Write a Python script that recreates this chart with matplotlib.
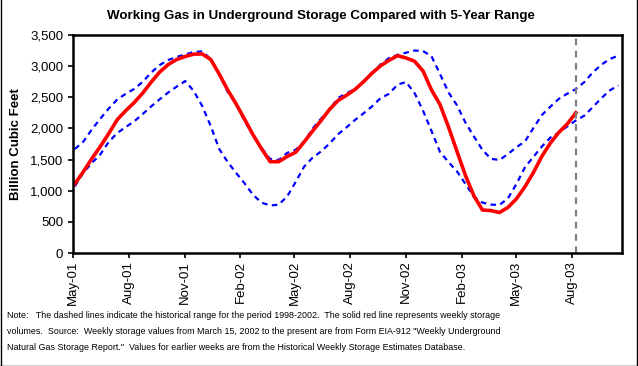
import matplotlib
matplotlib.use("Agg")
import matplotlib.pyplot as plt
import matplotlib.dates as mdates
import matplotlib.ticker as mticker
import pandas as pd
from matplotlib.lines import Line2D

plt.rcParams['font.family'] = ['Liberation Sans', 'DejaVu Sans']

# -----------------------------
# DATA (billion cubic feet, read every two weeks)
# -----------------------------
dates = pd.date_range("2001-05-04", periods=65, freq="14D")

upper = [1670, 1787, 1983, 2156, 2320, 2466, 2556, 2635, 2749, 2898,
         3018, 3099, 3147, 3188, 3227, 3237, 3115, 2874, 2585, 2392,
         2119, 1883, 1686, 1509, 1493, 1606, 1657, 1785, 1996, 2159,
         2304, 2489, 2564, 2633, 2755, 2890, 3026, 3131, 3180, 3216,
         3251, 3243, 3158, 2874, 2578, 2371, 2092, 1870, 1654, 1512,
         1493, 1589, 1699, 1790, 2007, 2216, 2350, 2476, 2559, 2633,
         2745, 2901, 3023, 3115, 3169]

lower = [1070, 1288, 1445, 1581, 1785, 1927, 2023, 2114, 2232, 2355,
         2469, 2577, 2672, 2761, 2601, 2360, 2039, 1670, 1461, 1284,
         1116, 931, 808, 763, 775, 907, 1140, 1387, 1530, 1631,
         1758, 1907, 2018, 2137, 2243, 2354, 2487, 2556, 2704, 2745,
         2569, 2285, 1959, 1622, 1461, 1310, 1108, 899, 809, 777,
         771, 878, 1108, 1376, 1544, 1711, 1853, 1933, 2034, 2127,
         2206, 2344, 2485, 2612, 2691]

storage = [1110, 1305, 1514, 1710, 1919, 2142, 2286, 2416, 2569, 2745,
           2906, 3026, 3107, 3155, 3192, 3195, 3107, 2874, 2617, 2392,
           2145, 1894, 1670, 1466, 1466, 1549, 1617, 1782, 1959, 2127,
           2307, 2448, 2533, 2627, 2750, 2888, 3005, 3094, 3168, 3131,
           3079, 2922, 2617, 2384, 2023, 1630, 1244, 915, 690, 681,
           650, 732, 870, 1064, 1292, 1554, 1766, 1938, 2074, 2252]

title = "Working Gas in Underground Storage Compared with 5-Year Range"
note_lines = [
    "Note:   The dashed lines indicate the historical range for the period 1998-2002.  "
    "The solid red line represents weekly storage",
    "volumes.  Source:  Weekly storage values from March 15, 2002 to the present are from "
    "Form EIA-912 \"Weekly Underground",
    "Natural Gas Storage Report.\"  Values for earlier weeks are from the Historical "
    "Weekly Storage Estimates Database.",
]

# -----------------------------
# PLOT
# -----------------------------
fig = plt.figure(figsize=(6.38, 3.66), dpi=100)
ax = fig.add_axes([73 / 638, 1 - 253 / 366, 549 / 638, 218 / 366])

ax.plot(dates, upper, color="#0000ff", lw=1.6, ls=(0, (2.5, 2)))
ax.plot(dates, lower, color="#0000ff", lw=1.6, ls=(0, (2.5, 2)))
ax.plot(dates[:len(storage)], storage, color="#ff0000", lw=2.6)
ax.axvline(dates[len(storage) - 1], color="#808080", lw=1.6, ls=(0, (3, 2.5)))

ax.set_xlim(pd.Timestamp("2001-05-01"), pd.Timestamp("2003-10-23"))
ax.set_ylim(0, 3500)
ax.set_yticks(range(0, 3501, 500))
ax.yaxis.set_major_formatter(mticker.FuncFormatter(lambda v, p: f"{v:,.0f}"))
ax.xaxis.set_major_locator(mdates.MonthLocator(bymonth=[2, 5, 8, 11]))
ax.xaxis.set_major_formatter(mdates.DateFormatter("%b-%y"))

ax.tick_params(axis="both", direction="out", length=3.5, width=1.2,
               labelsize=9.5, colors="black")
ax.tick_params(axis="x", labelrotation=90, pad=2)
for s in ax.spines.values():
    s.set_linewidth(1.8)

ax.set_ylabel("Billion Cubic Feet", fontsize=9.5, fontweight="bold")
ax.yaxis.set_label_coords(-0.092, 0.5)

fig.text(0.503, 1 - 16 / 366, title, ha="center", va="center",
         fontsize=9.6, fontweight="bold")
for line, ypix in zip(note_lines, [316, 332, 347]):
    fig.text(7 / 638, 1 - ypix / 366, line, ha="left", va="center", fontsize=6.4)

# outer frame
for xs, ys in [([0.5, 0.5], [0, 366]), ([636.5, 636.5], [0, 366]),
               ([0, 637], [365.5, 365.5])]:
    fig.add_artist(Line2D(xs, [366 - y for y in ys], color="black", lw=1,
                          transform=None))

plt.savefig("out.png", dpi=100)
